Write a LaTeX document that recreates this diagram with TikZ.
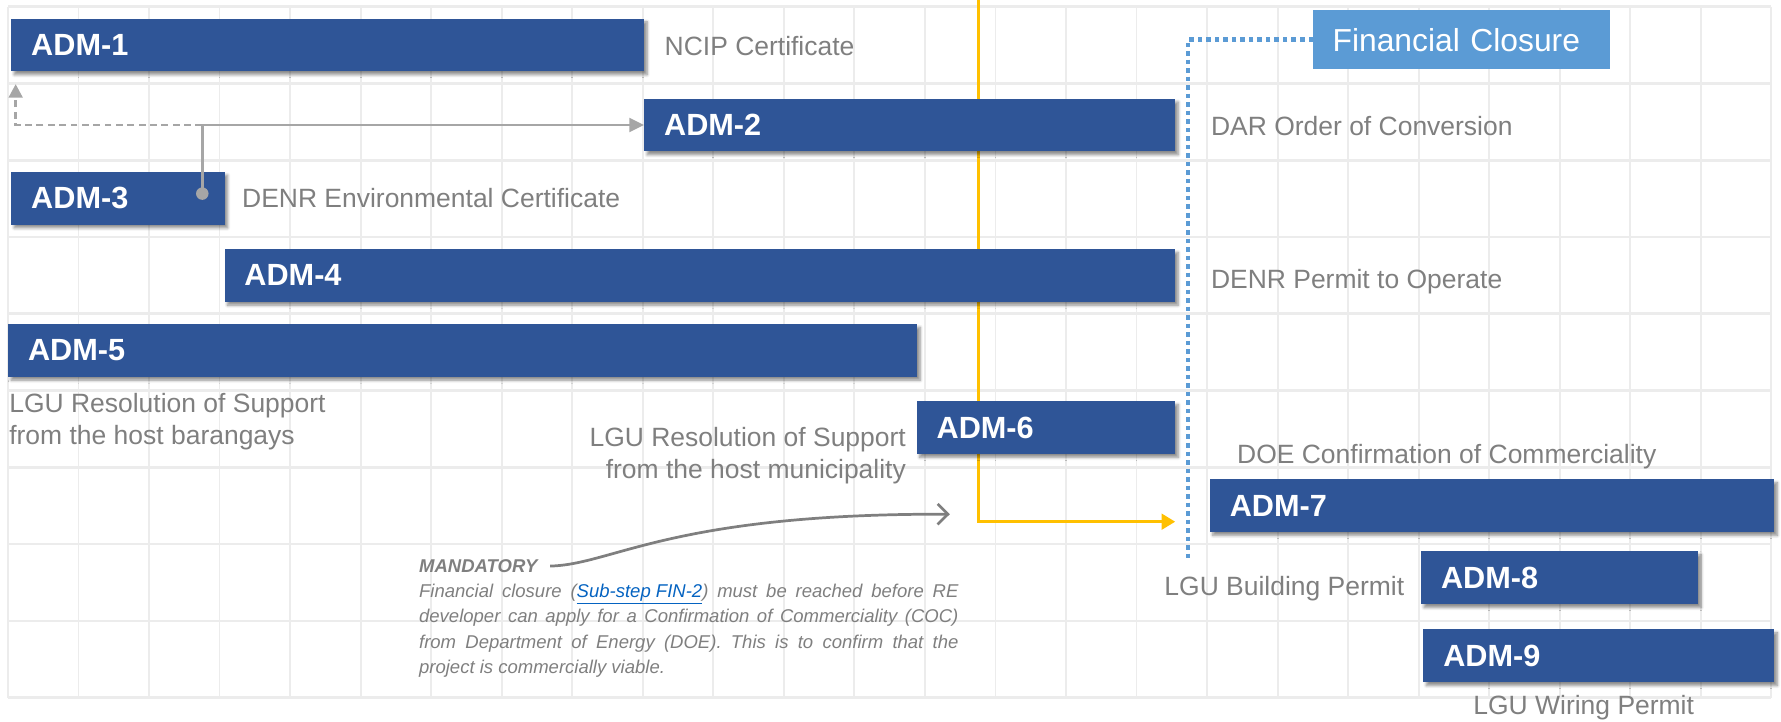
\documentclass[tikz,border=0pt]{standalone}
\usepackage{fontspec}
\setmainfont{Liberation Sans}
\usetikzlibrary{arrows.meta,shadows.blur}
\definecolor{barblue}{HTML}{2F5597}
\definecolor{fcblue}{HTML}{5B9BD5}
\definecolor{labelgray}{HTML}{7F7F7F}
\definecolor{conngray}{HTML}{A6A6A6}
\definecolor{curvegray}{HTML}{7F7F7F}
\definecolor{orangeline}{HTML}{FFC000}
\definecolor{linkblue}{HTML}{0563C1}
\definecolor{gridc}{HTML}{ECECEC}
\tikzset{
  gridv/.style={draw=gridc, line width=1.6pt},
  gridh/.style={draw=gridc, line width=2.4pt},
  bar/.style={rectangle, fill=barblue, anchor=north west, inner sep=0pt,
    minimum height=46.5pt, text width=#1, align=left, text=white,
    font=\fontsize{27}{32}\selectfont\bfseries,
    blur shadow={shadow xshift=2.5pt, shadow yshift=-3pt, shadow blur radius=2.5pt,
      shadow blur steps=6, shadow opacity=45}},
  fcbox/.style={rectangle, fill=fcblue, anchor=north west, inner sep=0pt,
    minimum height=52pt, text width=#1, align=left, text=white,
    font=\fontsize{28}{33}\selectfont},
  lbl/.style={anchor=base west, inner sep=0pt, text=labelgray,
    font=\fontsize{23.3}{28}\selectfont},
  conn/.style={draw=conngray, line width=2.6pt},
  orangeconn/.style={draw=orangeline, line width=2.2pt},
  dotconn/.style={draw=fcblue, line width=4pt, dash pattern=on 4pt off 3.5pt},
  curvearrow/.style={draw=curvegray, line width=2.4pt,
    -{Straight Barb[length=9pt,width=18pt,line width=2.4pt]}},
  notetext/.style={inner sep=0pt, text=labelgray,
    font=\fontsize{16.3}{22.3}\selectfont\itshape},
}
\begin{document}
\begin{tikzpicture}[x=1pt,y=-1pt]
\useasboundingbox (0,0) rectangle (1568,635);
% grid
\foreach \i in {0,...,25} \draw[gridv] ({7+62.1*\i},5.9) -- ({7+62.1*\i},614.2);
\foreach \j in {0,...,9} \draw[gridh] (7,{5.9+67.59*\j}) -- (1559.5,{5.9+67.59*\j});
% free ends
\coordinate (otop) at (861.3,0);
\coordinate (otip) at (1034.6,459.3);
\coordinate (dbot) at (1046,491.6);
\coordinate (ctip) at (836.2,452.7);
% orange line (behind bars)
\draw[orangeconn, -{Triangle[length=12pt,width=14pt]}] (otop) |- (otip);
% bars
\node[bar=557.2pt] (adm1) at (9.8,16.1) {\hspace*{17.5pt}ADM-1};
\node[bar=467.6pt] (adm2) at (567,86.6) {\hspace*{17.5pt}ADM-2};
\node[bar=187.9pt] (adm3) at (9.8,151) {\hspace*{17.5pt}ADM-3};
\node[bar=837pt] (adm4) at (197.5,219) {\hspace*{17.5pt}ADM-4};
\node[bar=800.4pt] (adm5) at (7,285) {\hspace*{17.5pt}ADM-5};
\node[bar=227.7pt] (adm6) at (806.9,353) {\hspace*{17.5pt}ADM-6};
\node[bar=497pt] (adm7) at (1065,421.7) {\hspace*{17.5pt}ADM-7};
\node[bar=244pt] (adm8) at (1251,485.2) {\hspace*{17.5pt}ADM-8};
\node[bar=309pt] (adm9) at (1253,553.9) {\hspace*{17.5pt}ADM-9};
% financial closure
\node[fcbox=261pt] (fc) at (1156,8.8) {\hspace*{17pt}Financial Closure};
\draw[dotconn] (fc.west) -| (dbot);
% gray connectors
\coordinate (dot) at ([xshift=-20pt,yshift=4pt]adm3.east);
\coordinate (junc) at (dot |- adm2.west);
\coordinate (tipA) at ([shift={(4pt,-11pt)}]adm1.south west);
\draw[conn, dash pattern=on 6pt off 4pt, -{Triangle[length=12pt,width=12pt]}] (junc) -| (tipA);
\draw[conn, -{Triangle[length=13pt,width=12pt]}] (dot) |- (adm2.west);
\fill[conngray] (dot) circle (5.5pt);
% labels
\node[lbl] (l1) at (585,49) {NCIP Certificate};
\node[lbl] (l2) at (1066,119) {DAR Order of Conversion};
\node[lbl] (l3) at (213,183) {DENR Environmental Certificate};
\node[lbl] (l4) at (1066,254) {DENR Permit to Operate};
\node[lbl, align=left] (l5) at (8,391) {LGU Resolution of Support\\from the host barangays};
\node[lbl, anchor=base east, align=right] (l6) at (797.7,421) {LGU Resolution of Support\\from the host municipality};
\node[lbl] (l7) at (1089,408) {DOE Confirmation of Commerciality};
\node[lbl] (l8) at (1025,524) {LGU Building Permit};
\node[lbl] (l9) at (1297,629) {LGU Wiring Permit};
% note
\node[notetext, anchor=base west, font=\fontsize{16.3}{22.3}\selectfont\bfseries\itshape] (mand) at (368.8,504) {MANDATORY};
\node[notetext, anchor=base west, text width=474.8pt, align=justify] (note) at (368.8,526)
  {Financial closure (\textcolor{linkblue}{\underline{Sub-step FIN-2}}) must be reached before RE\linebreak
   developer can apply for a Confirmation of Commerciality (COC)\linebreak
   from Department of Energy (DOE). This is to confirm that the\linebreak
   project is commercially viable.};
\draw[curvearrow] ([xshift=11pt]mand.east) .. controls (540,497) and (590,452) .. (ctip);
\end{tikzpicture}
\end{document}
